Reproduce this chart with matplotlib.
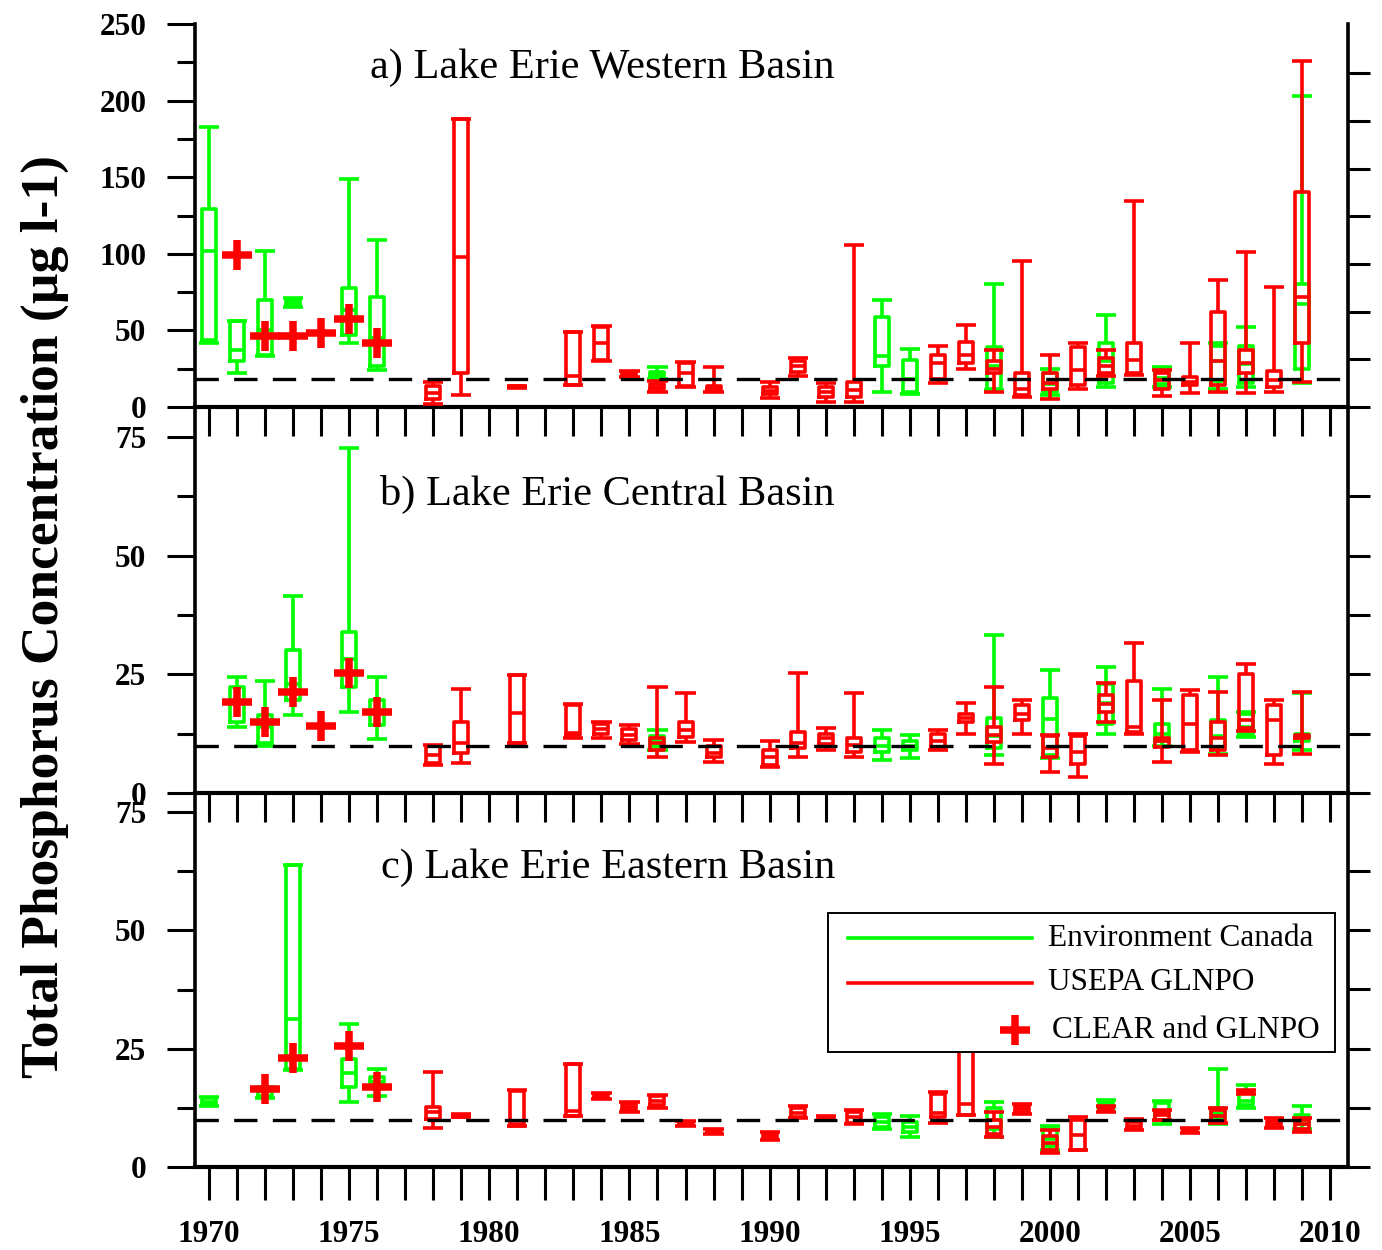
import matplotlib
matplotlib.use("Agg")
import matplotlib.pyplot as plt
from matplotlib.lines import Line2D
from matplotlib.patches import Rectangle
from matplotlib.ticker import MultipleLocator, FixedLocator, NullFormatter

plt.rcParams['font.family'] = ['Liberation Serif', 'DejaVu Serif']

# ---------------- data (µg/l) ----------------
# a) Western Basin
WB_EC_YEARS = [1970, 1971, 1972, 1973, 1975, 1976, 1986, 1994, 1995, 1998, 2000, 2002, 2004, 2006, 2007, 2009]
WB_EC_MIN = [42, 22, 33, 65, 42, 24, 18, 10, 8.5, 11, 8, 13, 13, 12, 13, 15.5]
WB_EC_Q1 = [44, 30, 34, 66, 47, 27, 20, 27, 10, 12, 10, 15.5, 15, 17, 15.5, 25]
WB_EC_MED = [102, 37, 50, 68, 63, 45, 21, 33, 18, 27, 15, 30, 19, 30, 28, 67]
WB_EC_Q3 = [129, 56, 70, 70, 78, 72, 23, 59, 31, 39, 22, 42, 24, 40, 40, 80]
WB_EC_MAX = [183, 56, 102, 71, 149, 109, 26, 70, 37.6, 80, 25, 60, 26, 42, 52, 203]

WB_GL_YEARS = [1978, 1979, 1981, 1983, 1984, 1985, 1986, 1987, 1988, 1990, 1991, 1992, 1993,
               1996, 1997, 1998, 1999, 2000, 2001, 2002, 2003, 2004, 2005, 2006, 2007, 2008, 2009]
WB_GL_MIN = [2, 8, 12.5, 14.4, 30, 19.5, 10, 13, 10, 6, 20, 3.5, 3, 15.5, 25, 10, 6.7, 5, 11.5, 20, 21, 7, 9, 10, 9, 10, 16.5]
WB_GL_Q1 = [5, 22, 13, 14.4, 30.5, 20.5, 12, 13.5, 11, 8.5, 23, 6.7, 6.7, 18, 29, 22, 8, 11.5, 14.4, 22, 22, 12, 14.4, 14.4, 22, 13, 42]
WB_GL_MED = [9, 98, 13.3, 20, 42, 21.5, 13, 22, 12.5, 10.5, 27, 10, 11, 29, 34, 25, 12, 15.5, 24, 27, 31, 17.6, 16.5, 30, 28.5, 17.6, 72]
WB_GL_Q3 = [14, 188, 13.6, 48.8, 52, 22.5, 15, 29, 14, 13, 30, 13.3, 16.5, 34, 42.6, 30, 22, 22, 39.4, 32, 41.6, 22, 19.8, 62, 37, 23.5, 140.6]
WB_GL_MAX = [16, 188, 14, 48.8, 53, 23.5, 17, 29.6, 26, 16, 32, 15.5, 106, 40, 53.5, 37, 95, 34, 42, 37, 134.5, 24, 42, 83, 101, 78.5, 226]

WB_CL_YEARS = [1971, 1972, 1973, 1974, 1975, 1976]
WB_CL_MEAN = [99, 46.5, 46.5, 48.3, 57.4, 41.6]
WB_TARGET = 18.5

# b) Central Basin
CB_EC_YEARS = [1971, 1972, 1973, 1975, 1976, 1986, 1994, 1995, 1998, 2000, 2002, 2004, 2006, 2007, 2009]
CB_EC_MIN = [14, 10, 16.4, 17.1, 11.3, 9, 6.9, 7.3, 8, 7.4, 12.5, 10, 8.3, 11.8, 9]
CB_EC_Q1 = [15, 10.5, 19.5, 22.3, 14.3, 10, 8.7, 9, 9.4, 8, 14.6, 11, 9.5, 12.5, 11]
CB_EC_MED = [19, 14, 23, 28.3, 17, 11, 10, 10, 12, 15.6, 19, 12.5, 12, 14, 12]
CB_EC_Q3 = [22.3, 16.4, 30.2, 34, 19.5, 12, 11.5, 11, 15.8, 20.1, 23, 14.5, 15.3, 16.7, 12.5]
CB_EC_MAX = [24.4, 23.7, 41.4, 72.7, 24.4, 13.2, 13.2, 12.2, 33.2, 26, 26.5, 22, 24.4, 17, 21]

CB_GL_YEARS = [1978, 1979, 1981, 1983, 1984, 1985, 1986, 1987, 1988, 1990, 1991, 1992, 1993,
               1996, 1997, 1998, 1999, 2000, 2001, 2002, 2003, 2004, 2005, 2006, 2007, 2008, 2009]
CB_GL_MIN = [6, 6.4, 10.6, 11.5, 11.5, 10.4, 7.6, 10.8, 6.6, 5.5, 7.6, 9, 7.6, 9, 12.5, 6.2, 12.5, 4.5, 3.4, 15, 12.5, 6.6, 8.7, 8, 13, 6.2, 8.3]
CB_GL_Q1 = [6.3, 8.5, 10.6, 12.2, 12.5, 11.2, 9, 11.8, 7.5, 6, 9.4, 10.4, 8.7, 9.7, 15, 10.8, 15.3, 7.6, 6.2, 17, 12.9, 9.7, 9, 9, 13.6, 8, 11.5]
CB_GL_MED = [8, 10.6, 16.9, 12.6, 13.5, 12.3, 10.5, 13.2, 8.5, 7.5, 10.6, 11.5, 10.1, 11, 15.7, 12.2, 16.7, 9.4, 8.7, 18.8, 14, 11, 14.6, 11.5, 15.3, 15.3, 12]
CB_GL_Q3 = [10, 15, 24.9, 18.5, 14.5, 13.5, 11.5, 15, 10, 9, 12.9, 12.5, 11.5, 12.5, 16.7, 13.9, 18.5, 12, 12, 20.6, 23.7, 11.5, 20.6, 15, 25.1, 18.5, 12.2]
CB_GL_MAX = [10.2, 22, 24.9, 18.7, 15, 14.3, 22.3, 21.1, 11.1, 11, 25.3, 13.6, 21.1, 13.2, 19, 22.3, 19.5, 12.2, 12.5, 23.2, 31.6, 19.5, 21.6, 21.3, 27.2, 19.5, 21.3]

CB_CL_YEARS = [1971, 1972, 1973, 1974, 1975, 1976]
CB_CL_MEAN = [19.2, 15, 21.3, 14.1, 25.2, 17.1]
CB_TARGET = 10

# c) Eastern Basin
EB_EC_YEARS = [1970, 1972, 1973, 1975, 1976, 1994, 1995, 1998, 2000, 2002, 2004, 2006, 2007, 2009]
EB_EC_MIN = [12.9, 14.5, 20.5, 13.8, 15, 8, 6.4, 6.4, 3.5, 12.7, 9, 9, 12.4, 8]
EB_EC_Q1 = [13.2, 15, 20.8, 16.8, 17, 8.5, 7.4, 8, 4.5, 13, 10, 10.5, 13, 9]
EB_EC_MED = [13.8, 16, 31.2, 19.9, 18, 9.5, 8.5, 10, 6, 13.5, 11.5, 11.5, 14, 10]
EB_EC_Q3 = [14.5, 16.5, 63.7, 22.9, 19, 10.6, 9.6, 12.5, 8, 14, 13.5, 12.5, 16, 11]
EB_EC_MAX = [14.8, 17, 63.7, 30.2, 20.8, 11.2, 10.8, 13.8, 8.7, 14.1, 14, 20.8, 17.3, 12.9]

EB_GL_YEARS = [1978, 1979, 1981, 1983, 1984, 1985, 1986, 1987, 1988, 1990, 1991, 1992, 1993,
               1996, 1997, 1998, 1999, 2000, 2001, 2002, 2003, 2004, 2005, 2006, 2007, 2008, 2009]
EB_GL_MIN = [8.2, 10.5, 8.7, 10.8, 14.3, 11.7, 12.4, 8.7, 6.9, 5.7, 10.3, 9.9, 9, 9.2, 11, 6.4, 11.3, 2.9, 3.6, 11.7, 7.8, 9.9, 7.1, 9.2, 15.5, 8.2, 7.4]
EB_GL_Q1 = [10.1, 10.6, 8.7, 10.8, 14.5, 12, 13, 8.9, 7.1, 6, 10.5, 10.1, 9.2, 10.5, 11, 7, 11.7, 3.5, 3.6, 12, 8, 10, 7.3, 9.5, 15.6, 8.5, 8]
EB_GL_MED = [11.7, 10.8, 9, 11.9, 15, 12.7, 14, 9.2, 7.4, 6.5, 11.5, 10.3, 10.5, 11.5, 13.4, 8.5, 12.3, 5, 6.8, 12.3, 8.7, 11, 7.6, 10.8, 15.8, 9, 9]
EB_GL_Q3 = [12.7, 11, 16, 21.7, 15.5, 13.3, 15, 9.5, 7.7, 7, 12.4, 10.6, 11.7, 15.5, 28, 9.9, 12.9, 6.5, 9.9, 12.7, 9.5, 11.7, 7.9, 12, 16, 9.7, 10]
EB_GL_MAX = [20.1, 11.1, 16.2, 21.7, 15.7, 13.8, 15.2, 9.7, 8, 7.4, 12.9, 10.8, 12, 15.9, 28, 11.7, 13.4, 7.8, 10.5, 12.9, 10.1, 12, 8.2, 12.4, 16.2, 10.3, 10.3]

EB_CL_YEARS = [1972, 1973, 1975, 1976]
EB_CL_MEAN = [16.4, 23.1, 25.5, 16.8]
EB_TARGET = 10

TITLES = ["a) Lake Erie Western Basin", "b) Lake Erie Central Basin", "c) Lake Erie Eastern Basin"]
LEGEND_LABELS = ["Environment Canada", "USEPA GLNPO", "CLEAR and GLNPO"]
YLABEL = "Total Phosphorus Concentration (\u00b5g l-1)"

GREEN = "#00ff00"
RED = "#ff0000"

# ---------------- layout ----------------
W, H = 1382, 1250
DPI = 100
fig = plt.figure(figsize=(W / DPI, H / DPI), dpi=DPI)


def fx(px):
    return px / W


def fy(py):
    return 1 - py / H


XL, XR = 195, 1348
# frame top (px), pixel of the labelled top value, bottom (px)
panels = [
    dict(frame_top=24, val_top=24, bot=407, ytop=250, major=50, minor=25, right_n=8.03, right_ticks=range(0, 8)),
    dict(frame_top=407, val_top=437, bot=793, ytop=75, major=25, minor=12.5, right_n=6, right_ticks=range(0, 6)),
    dict(frame_top=793, val_top=812, bot=1167, ytop=75, major=25, minor=12.5, right_n=6, right_ticks=range(0, 6)),
]

LW = 2.6
TICKSIZE = 22.5


def draw_boxes(ax, years, mn, q1, med, q3, mx, color, z):
    stats = [dict(whislo=a, q1=b, med=c, q3=d, whishi=e, fliers=[])
             for a, b, c, d, e in zip(mn, q1, med, q3, mx)]
    p = dict(color=color, linewidth=LW, solid_capstyle='butt')
    ax.bxp(stats, positions=years, widths=0.5, capwidths=0.72, showfliers=False,
           manage_ticks=False, boxprops=dict(color=color, linewidth=LW),
           medianprops=p, whiskerprops=p, capprops=p, zorder=z)


data = [
    (WB_EC_YEARS, WB_EC_MIN, WB_EC_Q1, WB_EC_MED, WB_EC_Q3, WB_EC_MAX,
     WB_GL_YEARS, WB_GL_MIN, WB_GL_Q1, WB_GL_MED, WB_GL_Q3, WB_GL_MAX,
     WB_CL_YEARS, WB_CL_MEAN, WB_TARGET),
    (CB_EC_YEARS, CB_EC_MIN, CB_EC_Q1, CB_EC_MED, CB_EC_Q3, CB_EC_MAX,
     CB_GL_YEARS, CB_GL_MIN, CB_GL_Q1, CB_GL_MED, CB_GL_Q3, CB_GL_MAX,
     CB_CL_YEARS, CB_CL_MEAN, CB_TARGET),
    (EB_EC_YEARS, EB_EC_MIN, EB_EC_Q1, EB_EC_MED, EB_EC_Q3, EB_EC_MAX,
     EB_GL_YEARS, EB_GL_MIN, EB_GL_Q1, EB_GL_MED, EB_GL_Q3, EB_GL_MAX,
     EB_CL_YEARS, EB_CL_MEAN, EB_TARGET),
]

x0 = 1970 + (XL - 209) / 28.03
x1 = 1970 + (XR - 209) / 28.03

for i, (pan, d) in enumerate(zip(panels, data)):
    hpx = pan['bot'] - pan['frame_top']
    ax = fig.add_axes([fx(XL), fy(pan['bot']), fx(XR - XL), hpx / H])
    ax.set_xlim(x0, x1)
    per_px = pan['ytop'] / (pan['bot'] - pan['val_top'])
    ymax = per_px * hpx
    ax.set_ylim(0, ymax)
    ax.patch.set_alpha(0)
    (ecy, ecmn, ecq1, ecmed, ecq3, ecmx, gly, glmn, glq1, glmed, glq3, glmx, cly, clm, tgt) = d
    draw_boxes(ax, ecy, ecmn, ecq1, ecmed, ecq3, ecmx, GREEN, 2)
    draw_boxes(ax, gly, glmn, glq1, glmed, glq3, glmx, RED, 3)
    ax.axhline(tgt, color='black', lw=2.4, ls=(0, (7.0, 4.6)), zorder=4)
    ax.plot(cly, clm, ls='none', marker='+', ms=21, mew=5.4, color=RED, zorder=5)

    ax.spines['top'].set_visible(False)
    ax.spines['left'].set_linewidth(2.6)
    ax.spines['bottom'].set_linewidth(3.0)
    ax.spines['right'].set_visible(False)

    ax.yaxis.set_major_locator(FixedLocator([v * pan['major'] for v in range(int(pan['ytop'] / pan['major']) + 1)]))
    ax.yaxis.set_minor_locator(FixedLocator([pan['minor'] + v * pan['major'] for v in range(int(pan['ytop'] / pan['major']))]))
    ax.tick_params(axis='y', which='major', direction='out', length=20, width=2.2,
                   pad=15, labelsize=TICKSIZE)
    ax.tick_params(axis='y', which='minor', direction='out', length=13, width=2.2)
    for lab in ax.get_yticklabels():
        lab.set_fontweight('bold')

    ax.xaxis.set_major_locator(MultipleLocator(5))
    ax.xaxis.set_minor_locator(MultipleLocator(1))
    ax.tick_params(axis='x', which='both', direction='out', length=21 if i < 2 else 24,
                   width=2.2, pad=14, labelsize=TICKSIZE)
    if i < 2:
        ax.xaxis.set_major_formatter(NullFormatter())
    else:
        for lab in ax.get_xticklabels():
            lab.set_fontweight('bold')

    # right-hand axis with its own tick marks (no labels)
    rx = ax.twinx()
    rx.set_ylim(0, pan['right_n'] * hpx / (pan['bot'] - pan['val_top']))
    rx.yaxis.set_major_locator(FixedLocator(list(pan['right_ticks'])))
    rx.yaxis.set_major_formatter(NullFormatter())
    rx.tick_params(axis='y', direction='out', length=16, width=2.2)
    for s in ('top', 'left', 'bottom'):
        rx.spines[s].set_visible(False)
    rx.spines['right'].set_linewidth(2.6)

    tx_y = {0: 68, 1: 494, 2: 868}[i]
    fig.text(fx(835), fy(tx_y), TITLES[i], ha='right', va='center', fontsize=30.5,
             family='Liberation Serif')

fig.text(fx(45), fy(617), YLABEL, rotation=90, ha='center', va='center',
         fontsize=38.5, fontweight='bold', family='Liberation Serif')

# legend box
lx0, ly0, lx1, ly1 = 828, 913, 1335, 1052
fig.patches.append(Rectangle((fx(lx0), fy(ly1)), fx(lx1 - lx0), (ly1 - ly0) / H,
                             transform=fig.transFigure, facecolor='white',
                             edgecolor='black', lw=1.4, zorder=10))
rows = [938, 983, 1030]
fig.lines.append(Line2D([fx(848), fx(1032)], [fy(rows[0])] * 2, transform=fig.transFigure,
                        color=GREEN, lw=LW, zorder=11))
fig.lines.append(Line2D([fx(848), fx(1032)], [fy(rows[1])] * 2, transform=fig.transFigure,
                        color=RED, lw=LW, zorder=11))
fig.lines.append(Line2D([fx(1015)], [fy(rows[2])], transform=fig.transFigure, ls='none',
                        marker='+', ms=21, mew=5.4, color=RED, zorder=11))
for r, lab, xx in zip(rows, LEGEND_LABELS, [1048, 1048, 1052]):
    fig.text(fx(xx), fy(r), lab, ha='left', va='center', fontsize=22.5,
             family='Liberation Serif', zorder=12)

fig.savefig("out.png", dpi=DPI)
